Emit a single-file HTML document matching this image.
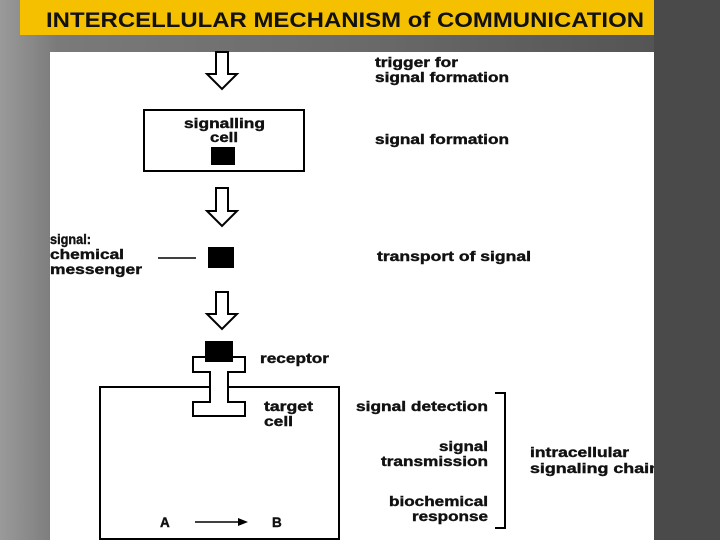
<!DOCTYPE html>
<html><head><style>
body{margin:0;width:720px;height:540px;overflow:hidden;background:linear-gradient(90deg,#9a9a9a 0%,#7a7a7a 8%,#6a6a6a 50%,#555 90%,#4a4a4a 100%);}
#bg{position:absolute;left:0;top:0;width:720px;height:540px;}
</style></head><body>
<svg id="bg" width="720" height="540" xmlns="http://www.w3.org/2000/svg" font-family="Liberation Sans, sans-serif" font-weight="bold">
<rect x="654" y="0" width="66" height="540" fill="#4a4a4a"/>
<rect x="20" y="0" width="634" height="35" fill="#f5c000"/>
<text x="46" y="27" font-size="21" fill="#111" textLength="598" lengthAdjust="spacingAndGlyphs">INTERCELLULAR MECHANISM of COMMUNICATION</text>
<rect x="50" y="52" width="604" height="488" fill="#fff"/>
<g fill="#fff" stroke="#000" stroke-width="2" stroke-linejoin="miter">
<path d="M216 52 V74 H207 L222 89 L237 74 H228 V52 Z"/>
<path d="M216 188 V211 H207 L222 226 L237 211 H228 V188 Z"/>
<path d="M216 292 V314 H207 L222 329 L237 314 H228 V292 Z"/>
<path d="M215 427 V438 H209 L220 448 L231 438 H225 V427 Z"/>
<path d="M215 455 V465 H209 L220 475 L231 465 H225 V455 Z"/>
<path d="M215 483 V494 H209 L220 504 L231 494 H225 V483 Z"/>
<rect x="144" y="110" width="160" height="61"/>
<rect x="100" y="387" width="239" height="152"/>
<path d="M193 357 H245 V372 H228 V402 H245 V416 H193 V402 H210 V372 H193 Z"/>
</g>
<rect x="211" y="147" width="24" height="18"/>
<rect x="208" y="247" width="26" height="21"/>
<rect x="205" y="341" width="28" height="21"/>
<line x1="158" y1="258" x2="196" y2="258" stroke="#000" stroke-width="1.5"/>
<line x1="195" y1="522" x2="240" y2="522" stroke="#000" stroke-width="1.5"/>
<path d="M238 518 L248 522 L238 526 Z"/>
<path d="M495 393 H505 V528 H495" fill="none" stroke="#000" stroke-width="2"/>
<g font-size="13.5" fill="#111" stroke="#111" stroke-width="0.4" lengthAdjust="spacingAndGlyphs">
<text x="184" y="128" textLength="81" lengthAdjust="spacingAndGlyphs">signalling</text>
<text x="210" y="142" textLength="28" lengthAdjust="spacingAndGlyphs">cell</text>
<text x="375" y="67" textLength="83" lengthAdjust="spacingAndGlyphs">trigger for</text>
<text x="375" y="82" textLength="134" lengthAdjust="spacingAndGlyphs">signal formation</text>
<text x="375" y="144" textLength="134" lengthAdjust="spacingAndGlyphs">signal formation</text>
<text x="50" y="244" textLength="41" lengthAdjust="spacingAndGlyphs">signal:</text>
<text x="50" y="259" textLength="74" lengthAdjust="spacingAndGlyphs">chemical</text>
<text x="50" y="274" textLength="92" lengthAdjust="spacingAndGlyphs">messenger</text>
<text x="377" y="261" textLength="154" lengthAdjust="spacingAndGlyphs">transport of signal</text>
<text x="260" y="363" textLength="69" lengthAdjust="spacingAndGlyphs">receptor</text>
<text x="264" y="411" textLength="49" lengthAdjust="spacingAndGlyphs">target</text>
<text x="264" y="426" textLength="29" lengthAdjust="spacingAndGlyphs">cell</text>
<text x="160" y="527">A</text>
<text x="272" y="527">B</text>
<text x="356" y="411" textLength="132" lengthAdjust="spacingAndGlyphs">signal detection</text>
<text x="439" y="451" textLength="49" lengthAdjust="spacingAndGlyphs">signal</text>
<text x="381" y="466" textLength="107" lengthAdjust="spacingAndGlyphs">transmission</text>
<text x="389" y="506" textLength="99" lengthAdjust="spacingAndGlyphs">biochemical</text>
<text x="412" y="521" textLength="76" lengthAdjust="spacingAndGlyphs">response</text>
</g>
<svg x="0" y="0" width="654" height="540" overflow="hidden">
<g font-size="13.5" fill="#111" stroke="#111" stroke-width="0.4"><text x="530" y="457" textLength="99" lengthAdjust="spacingAndGlyphs">intracellular</text><text x="530" y="473" textLength="130" lengthAdjust="spacingAndGlyphs">signaling chain</text></g>
</svg>
</svg>
</body></html>
